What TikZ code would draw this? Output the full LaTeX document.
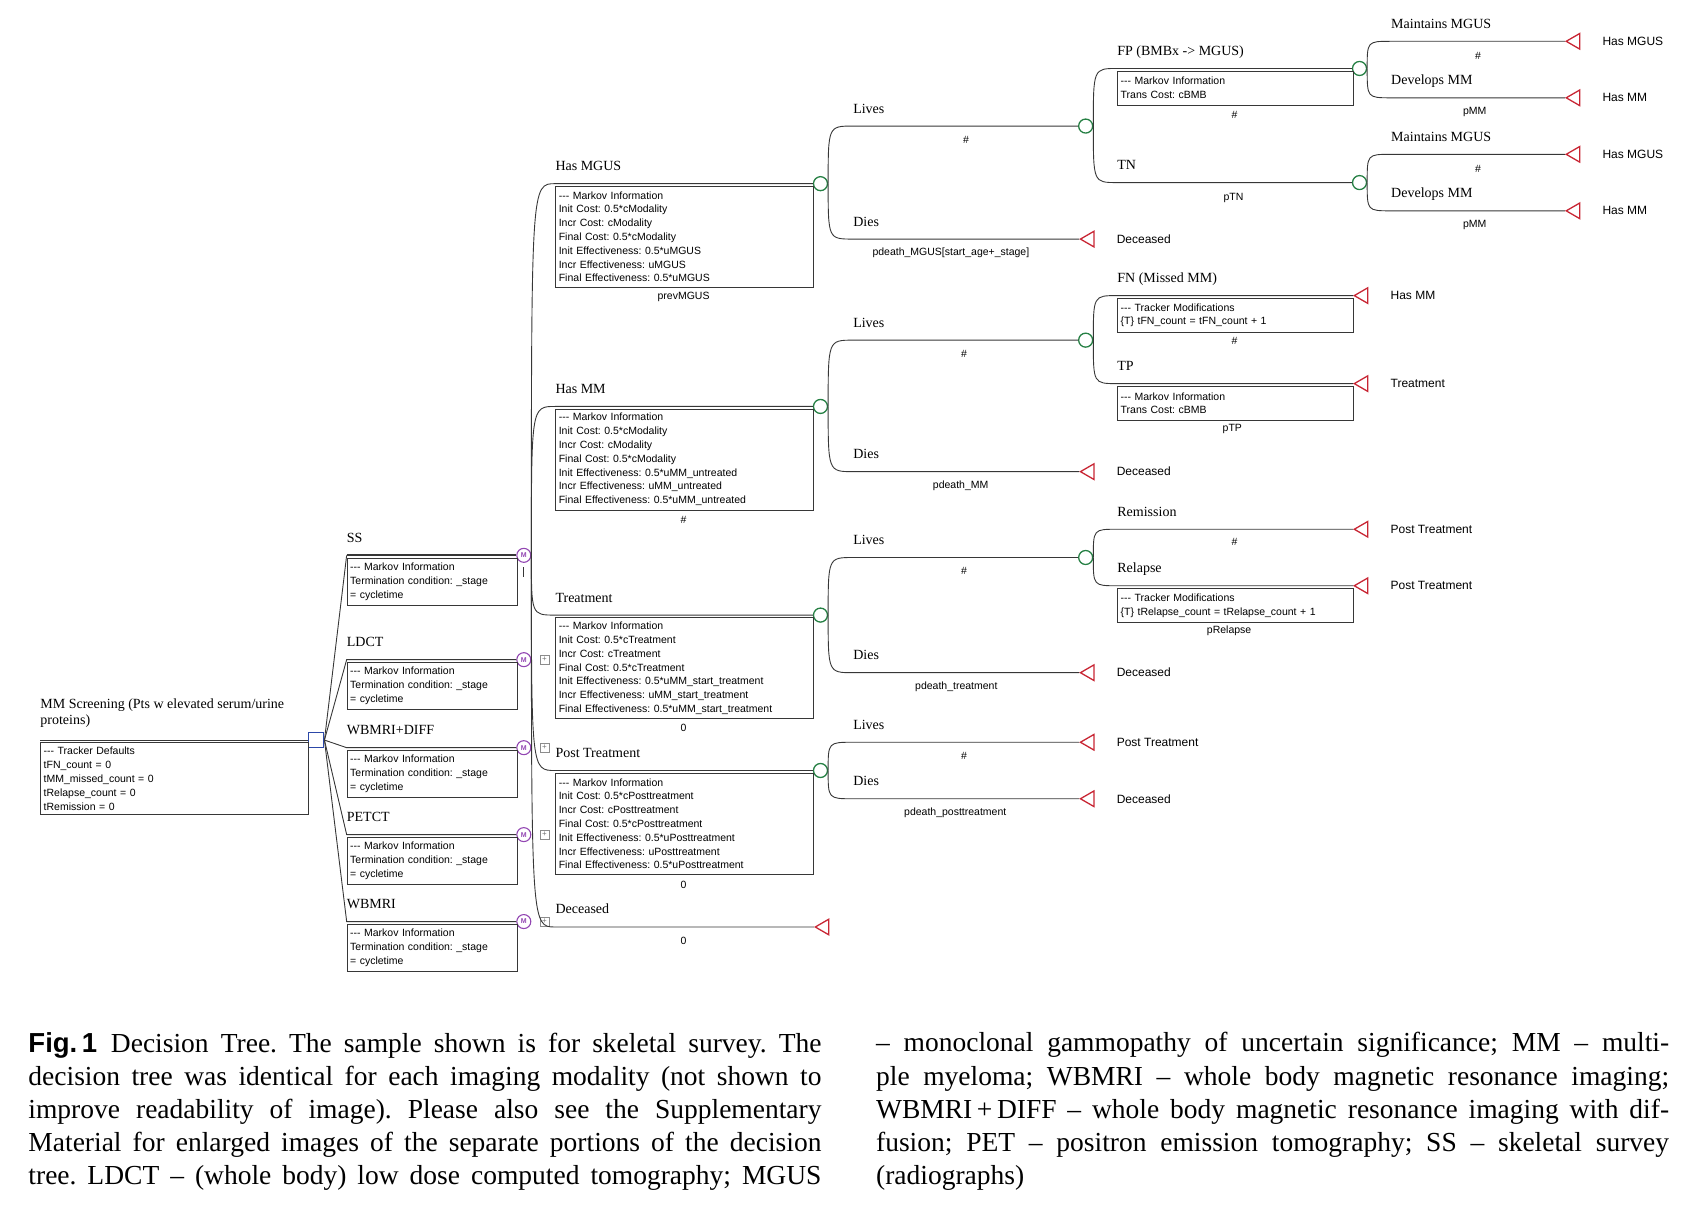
\documentclass[tikz,border=0pt]{standalone}
\usepackage{fontspec}
\setmainfont{Liberation Serif}
\setsansfont{Liberation Sans}
\usetikzlibrary{calc,positioning,shapes.geometric}

\definecolor{chancegreen}{RGB}{38,128,68}
\definecolor{endred}{RGB}{200,38,52}
\definecolor{markovpurple}{RGB}{146,70,178}
\definecolor{decisionblue}{RGB}{44,72,168}
\definecolor{treeline}{RGB}{55,55,55}

\begin{document}
\frenchspacing
\begin{tikzpicture}[
    x=1.0867pt, y=-1.0867pt,
    br/.style={line width=0.9pt, draw=treeline},
    brlbl/.style={anchor=base west, inner sep=0pt, font=\fontsize{14}{16}\selectfont},
    problbl/.style={inner sep=0pt, font=\sffamily\fontsize{10.5}{12}\selectfont},
    endlbl/.style={inner sep=0pt, font=\sffamily\fontsize{12}{14}\selectfont},
    infobox/.style={draw=treeline, line width=1pt, anchor=north west, align=left,
        inner xsep=3pt, inner ysep=2pt, font=\sffamily\fontsize{10.5}{13.8}\selectfont},
    bigbox/.style={infobox, text width=251.5pt, minimum height=101pt},
    modbox/.style={infobox, text width=164.6pt, minimum height=47pt},
    smallbox/.style={infobox, text width=229.8pt, minimum height=34pt},
    rootbox/.style={infobox, text width=261.3pt, minimum height=72pt},
    chance/.style={circle, draw=chancegreen, line width=1.3pt, minimum size=14pt, inner sep=0pt},
    endnode/.style={regular polygon, regular polygon sides=3, shape border rotate=90,
        draw=endred, line width=1.3pt, minimum size=18pt, inner sep=0pt, anchor=corner 1},
    markov/.style={circle, draw=markovpurple, line width=1.1pt, minimum size=14pt, inner sep=0pt,
        text=markovpurple, font=\sffamily\bfseries\fontsize{7}{7}\selectfont},
    decision/.style={rectangle, draw=decisionblue, line width=1.4pt, minimum size=15pt, inner sep=0pt},
    collapsed/.style={rectangle, draw=black!45, line width=0.5pt, minimum size=9pt, inner sep=0pt,
        text=black!55, font=\sffamily\fontsize{8}{8}\selectfont},
    caption/.style={anchor=north west, inner sep=0pt, text width=793pt, align=justify,
        font=\fontsize{27.5}{33.1}\selectfont}
]
    \useasboundingbox (0,0) rectangle (1568,1113);

    % root decision
    \coordinate (rootS) at (37,681);
    \node[decision] (dec) at (291,681) {};
    \draw[br] (rootS) -- (dec);
    \node[anchor=south west, inner sep=0pt, align=left, font=\fontsize{14}{16.3}\selectfont] (rootlbl) at (37,670)
        {MM Screening (Pts w elevated serum/urine\\proteins)};
    \node[rootbox] (rootbox) at (37,683)
        {-{}-{}- Tracker Defaults\\tFN\_count = 0\\tMM\_missed\_count = 0\\tRelapse\_count = 0\\tRemission = 0};

    % imaging modalities
    \coordinate (ssS) at (319,511);
    \node[markov] (ssM) at (482,511) {M};
    \draw[br] (dec.east) -- (ssS);
    \draw[br, line width=2.2pt] (ssS) -- (ssM);
    \node[brlbl] (sslbl) at (319,499) {SS};
    \node[modbox] (ssbox) at (319,513) {-{}-{}- Markov Information\\Termination condition: \_stage\\= cycletime};
    \draw[br] ($(ssM.south)+(0,4)$) -- ++(0,9);

    \coordinate (ldctS) at (319,607);
    \node[markov] (ldctM) at (482,607) {M};
    \draw[br] (dec.east) -- (ldctS) -- (ldctM);
    \node[brlbl] (ldctlbl) at (319,595) {LDCT};
    \node[modbox] (ldctbox) at (319,609) {-{}-{}- Markov Information\\Termination condition: \_stage\\= cycletime};
    \node[collapsed] (ldctplus) at (501,607) {+};

    \coordinate (wdS) at (319,688);
    \node[markov] (wdM) at (482,688) {M};
    \draw[br] (dec.east) -- (wdS) -- (wdM);
    \node[brlbl] (wdlbl) at (319,676) {WBMRI+DIFF};
    \node[modbox] (wdbox) at (319,690) {-{}-{}- Markov Information\\Termination condition: \_stage\\= cycletime};
    \node[collapsed] (wdplus) at (501,688) {+};

    \coordinate (petS) at (319,768);
    \node[markov] (petM) at (482,768) {M};
    \draw[br] (dec.east) -- (petS) -- (petM);
    \node[brlbl] (petlbl) at (319,756) {PETCT};
    \node[modbox] (petbox) at (319,770) {-{}-{}- Markov Information\\Termination condition: \_stage\\= cycletime};
    \node[collapsed] (petplus) at (501,768) {+};

    \coordinate (wbS) at (319,848);
    \node[markov] (wbM) at (482,848) {M};
    \draw[br] (dec.east) -- (wbS) -- (wbM);
    \node[brlbl] (wblbl) at (319,836) {WBMRI};
    \node[modbox] (wbbox) at (319,850) {-{}-{}- Markov Information\\Termination condition: \_stage\\= cycletime};
    \node[collapsed] (wbplus) at (501,848) {+};

    % markov states
    \coordinate (mgusS) at (511,169);
    \node[chance] (mgusC) at (755,169) {};
    \draw[br] (ssM.east) .. controls (ssM.east |- mgusS) .. (mgusS) -- (mgusC);
    \node[brlbl] (mguslbl) at (511,157) {Has MGUS};
    \node[bigbox] (mgusbox) at (511,171) {-{}-{}- Markov Information\\Init Cost: 0.5*cModality\\Incr Cost: cModality\\Final Cost: 0.5*cModality\\Init Effectiveness: 0.5*uMGUS\\Incr Effectiveness: uMGUS\\Final Effectiveness: 0.5*uMGUS};
    \node[problbl] (mgusp) at (629,273) {prevMGUS};

    \coordinate (mmS) at (511,374);
    \node[chance] (mmC) at (755,374) {};
    \draw[br] (ssM.east) .. controls (ssM.east |- mmS) .. (mmS) -- (mmC);
    \node[brlbl] (mmlbl) at (511,362) {Has MM};
    \node[bigbox] (mmbox) at (511,376) {-{}-{}- Markov Information\\Init Cost: 0.5*cModality\\Incr Cost: cModality\\Final Cost: 0.5*cModality\\Init Effectiveness: 0.5*uMM\_untreated\\Incr Effectiveness: uMM\_untreated\\Final Effectiveness: 0.5*uMM\_untreated};
    \node[problbl] (mmp) at (629,478) {\#};

    \coordinate (trtS) at (511,566);
    \node[chance] (trtC) at (755,566) {};
    \draw[br] (ssM.east) .. controls (ssM.east |- trtS) .. (trtS) -- (trtC);
    \node[brlbl] (trtlbl) at (511,554) {Treatment};
    \node[bigbox] (trtbox) at (511,568) {-{}-{}- Markov Information\\Init Cost: 0.5*cTreatment\\Incr Cost: cTreatment\\Final Cost: 0.5*cTreatment\\Init Effectiveness: 0.5*uMM\_start\_treatment\\Incr Effectiveness: uMM\_start\_treatment\\Final Effectiveness: 0.5*uMM\_start\_treatment};
    \node[problbl] (trtp) at (629,670) {0};

    \coordinate (postS) at (511,709);
    \node[chance] (postC) at (755,709) {};
    \draw[br] (ssM.east) .. controls (ssM.east |- postS) .. (postS) -- (postC);
    \node[brlbl] (postlbl) at (511,697) {Post Treatment};
    \node[bigbox] (postbox) at (511,711) {-{}-{}- Markov Information\\Init Cost: 0.5*cPosttreatment\\Incr Cost: cPosttreatment\\Final Cost: 0.5*cPosttreatment\\Init Effectiveness: 0.5*uPosttreatment\\Incr Effectiveness: uPosttreatment\\Final Effectiveness: 0.5*uPosttreatment};
    \node[problbl] (postp) at (629,814) {0};

    \coordinate (deadS) at (511,853);
    \node[endnode] (deadT) at (749,853) {};
    \draw[br] (ssM.east) .. controls (ssM.east |- deadS) .. (deadS) -- (deadT);
    \node[brlbl] (deadlbl) at (511,841) {Deceased};
    \node[problbl] (deadp) at (629,866) {0};

    % has MGUS
    \coordinate (gLivS) at (785,116);
    \node[chance] (gLivC) at (999,116) {};
    \draw[br] (mgusC.east) .. controls (mgusC.east |- gLivS) .. (gLivS) -- (gLivC);
    \node[brlbl] (gLivlbl) at (785,104) {Lives};
    \node[problbl] (gLivp) at (889,129) {\#};

    \coordinate (gDieS) at (785,220);
    \node[endnode] (gDieT) at (993,220) {};
    \draw[br] (mgusC.east) .. controls (mgusC.east |- gDieS) .. (gDieS) -- (gDieT);
    \node[brlbl] (gDielbl) at (785,208) {Dies};
    \node[problbl] (gDiep) at (875,233) {pdeath\_MGUS[start\_age+\_stage]};
    \node[endlbl, right=22pt of gDieT] (gDieend) {Deceased};

    \coordinate (fpS) at (1028,63);
    \node[chance] (fpC) at (1251,63) {};
    \draw[br] (gLivC.east) .. controls (gLivC.east |- fpS) .. (fpS) -- (fpC);
    \node[brlbl] (fplbl) at (1028,51) {FP (BMBx -> MGUS)};
    \node[smallbox] (fpbox) at (1028,65) {-{}-{}- Markov Information\\Trans Cost: cBMB};
    \node[problbl] (fpp) at (1136,106) {\#};

    \coordinate (tnS) at (1028,168);
    \node[chance] (tnC) at (1251,168) {};
    \draw[br] (gLivC.east) .. controls (gLivC.east |- tnS) .. (tnS) -- (tnC);
    \node[brlbl] (tnlbl) at (1028,156) {TN};
    \node[problbl] (tnp) at (1135,182) {pTN};

    \coordinate (fpKeepS) at (1280,38);
    \node[endnode] (fpKeepT) at (1440,38) {};
    \draw[br] (fpC.east) .. controls (fpC.east |- fpKeepS) .. (fpKeepS) -- (fpKeepT);
    \node[brlbl] (fpKeeplbl) at (1280,26) {Maintains MGUS};
    \node[problbl] (fpKeepp) at (1360,51) {\#};
    \node[endlbl, right=22pt of fpKeepT] (fpKeepend) {Has MGUS};

    \coordinate (fpDevS) at (1280,90);
    \node[endnode] (fpDevT) at (1440,90) {};
    \draw[br] (fpC.east) .. controls (fpC.east |- fpDevS) .. (fpDevS) -- (fpDevT);
    \node[brlbl] (fpDevlbl) at (1280,78) {Develops MM};
    \node[problbl] (fpDevp) at (1357,103) {pMM};
    \node[endlbl, right=22pt of fpDevT] (fpDevend) {Has MM};

    \coordinate (tnKeepS) at (1280,142);
    \node[endnode] (tnKeepT) at (1440,142) {};
    \draw[br] (tnC.east) .. controls (tnC.east |- tnKeepS) .. (tnKeepS) -- (tnKeepT);
    \node[brlbl] (tnKeeplbl) at (1280,130) {Maintains MGUS};
    \node[problbl] (tnKeepp) at (1360,155) {\#};
    \node[endlbl, right=22pt of tnKeepT] (tnKeepend) {Has MGUS};

    \coordinate (tnDevS) at (1280,194);
    \node[endnode] (tnDevT) at (1440,194) {};
    \draw[br] (tnC.east) .. controls (tnC.east |- tnDevS) .. (tnDevS) -- (tnDevT);
    \node[brlbl] (tnDevlbl) at (1280,182) {Develops MM};
    \node[problbl] (tnDevp) at (1357,207) {pMM};
    \node[endlbl, right=22pt of tnDevT] (tnDevend) {Has MM};

    % has MM
    \coordinate (mLivS) at (785,313);
    \node[chance] (mLivC) at (999,313) {};
    \draw[br] (mmC.east) .. controls (mmC.east |- mLivS) .. (mLivS) -- (mLivC);
    \node[brlbl] (mLivlbl) at (785,301) {Lives};
    \node[problbl] (mLivp) at (887,326) {\#};

    \coordinate (mDieS) at (785,434);
    \node[endnode] (mDieT) at (993,434) {};
    \draw[br] (mmC.east) .. controls (mmC.east |- mDieS) .. (mDieS) -- (mDieT);
    \node[brlbl] (mDielbl) at (785,422) {Dies};
    \node[problbl] (mDiep) at (884,447) {pdeath\_MM};
    \node[endlbl, right=22pt of mDieT] (mDieend) {Deceased};

    \coordinate (fnS) at (1028,272);
    \node[endnode] (fnT) at (1245,272) {};
    \draw[br] (mLivC.east) .. controls (mLivC.east |- fnS) .. (fnS) -- (fnT);
    \node[brlbl] (fnlbl) at (1028,260) {FN (Missed MM)};
    \node[smallbox] (fnbox) at (1028,274) {-{}-{}- Tracker Modifications\\\{T\} tFN\_count = tFN\_count + 1};
    \node[problbl] (fnp) at (1136,314) {\#};
    \node[endlbl, right=22pt of fnT] (fnend) {Has MM};

    \coordinate (tpS) at (1028,353);
    \node[endnode] (tpT) at (1245,353) {};
    \draw[br] (mLivC.east) .. controls (mLivC.east |- tpS) .. (tpS) -- (tpT);
    \node[brlbl] (tplbl) at (1028,341) {TP};
    \node[smallbox] (tpbox) at (1028,355) {-{}-{}- Markov Information\\Trans Cost: cBMB};
    \node[problbl] (tpp) at (1134,395) {pTP};
    \node[endlbl, right=22pt of tpT] (tpend) {Treatment};

    % treatment
    \coordinate (tLivS) at (785,513);
    \node[chance] (tLivC) at (999,513) {};
    \draw[br] (trtC.east) .. controls (trtC.east |- tLivS) .. (tLivS) -- (tLivC);
    \node[brlbl] (tLivlbl) at (785,501) {Lives};
    \node[problbl] (tLivp) at (887,525) {\#};

    \coordinate (tDieS) at (785,619);
    \node[endnode] (tDieT) at (993,619) {};
    \draw[br] (trtC.east) .. controls (trtC.east |- tDieS) .. (tDieS) -- (tDieT);
    \node[brlbl] (tDielbl) at (785,607) {Dies};
    \node[problbl] (tDiep) at (880,632) {pdeath\_treatment};
    \node[endlbl, right=22pt of tDieT] (tDieend) {Deceased};

    \coordinate (remS) at (1028,487);
    \node[endnode] (remT) at (1245,487) {};
    \draw[br] (tLivC.east) .. controls (tLivC.east |- remS) .. (remS) -- (remT);
    \node[brlbl] (remlbl) at (1028,475) {Remission};
    \node[problbl] (remp) at (1136,499) {\#};
    \node[endlbl, right=22pt of remT] (remend) {Post Treatment};

    \coordinate (relS) at (1028,539);
    \node[endnode] (relT) at (1245,539) {};
    \draw[br] (tLivC.east) .. controls (tLivC.east |- relS) .. (relS) -- (relT);
    \node[brlbl] (rellbl) at (1028,527) {Relapse};
    \node[smallbox] (relbox) at (1028,541) {-{}-{}- Tracker Modifications\\\{T\} tRelapse\_count = tRelapse\_count + 1};
    \node[problbl] (relp) at (1131,580) {pRelapse};
    \node[endlbl, right=22pt of relT] (relend) {Post Treatment};

    % post treatment
    \coordinate (pLivS) at (785,683);
    \node[endnode] (pLivT) at (993,683) {};
    \draw[br] (postC.east) .. controls (postC.east |- pLivS) .. (pLivS) -- (pLivT);
    \node[brlbl] (pLivlbl) at (785,671) {Lives};
    \node[problbl] (pLivp) at (887,696) {\#};
    \node[endlbl, right=22pt of pLivT] (pLivend) {Post Treatment};

    \coordinate (pDieS) at (785,735);
    \node[endnode] (pDieT) at (993,735) {};
    \draw[br] (postC.east) .. controls (postC.east |- pDieS) .. (pDieS) -- (pDieT);
    \node[brlbl] (pDielbl) at (785,723) {Dies};
    \node[problbl] (pDiep) at (879,748) {pdeath\_posttreatment};
    \node[endlbl, right=22pt of pDieT] (pDieend) {Deceased};

    % caption
    \node[caption] (capL) at (26,950) {\tolerance=9999\relax\hyphenpenalty=10000\relax\parfillskip=0pt\relax
        \textsf{\textbf{Fig.\,1}}\enspace Decision Tree. The sample shown is for skeletal survey. The\linebreak
        decision tree was identical for each imaging modality (not shown to\linebreak
        improve readability of image). Please also see the Supplementary\linebreak
        Material for enlarged images of the separate portions of the decision\linebreak
        tree. LDCT – (whole body) low dose computed tomography; MGUS\par};
    \node[caption] (capR) at (806,950) {\tolerance=9999\relax\hyphenpenalty=10000\relax
        – monoclonal gammopathy of uncertain significance; MM – multi-\linebreak
        ple myeloma; WBMRI – whole body magnetic resonance imaging;\linebreak
        WBMRI\,+\,DIFF – whole body magnetic resonance imaging with dif-\linebreak
        fusion; PET – positron emission tomography; SS – skeletal survey\linebreak
        (radiographs)};
\end{tikzpicture}
\end{document}
